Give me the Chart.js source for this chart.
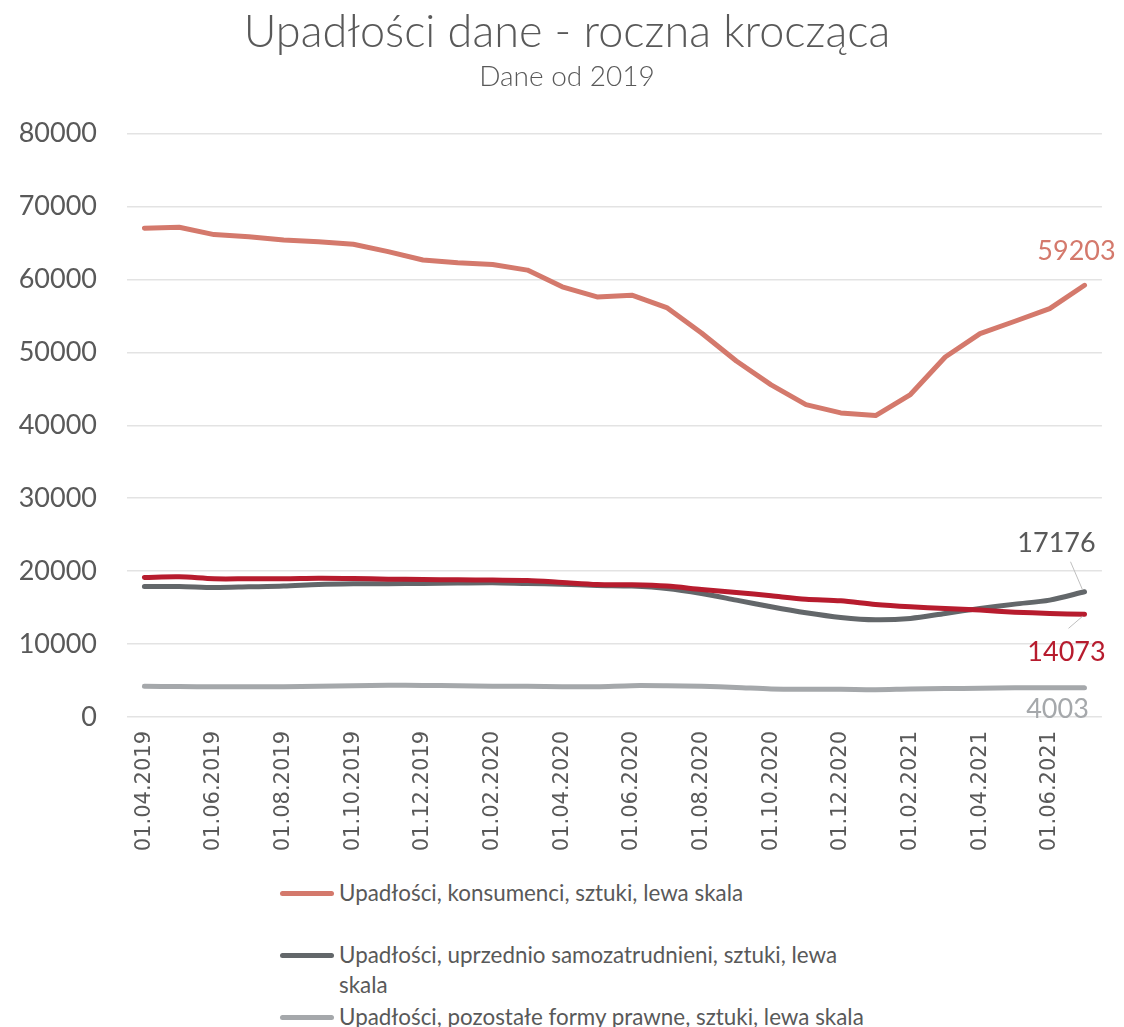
<!DOCTYPE html>
<html lang="pl">
<head>
<meta charset="utf-8">
<title>Upadłości dane - roczna krocząca</title>
<script src="https://cdn.jsdelivr.net/npm/chart.js@4.4.1/dist/chart.umd.min.js"></script>
<style>
  html, body { margin: 0; padding: 0; background: #ffffff; overflow: hidden; }
  #wrap { position: relative; width: 1124px; height: 1027px; }
  #plot { position: absolute; left: 0; top: 0; }
  #legend {
    position: absolute; left: 280px; top: 878px; width: 620px;
    font-family: Lato, "Open Sans", sans-serif; font-size: 22.4px; color: #595959;
  }
  .item { display: flex; align-items: flex-start; min-height: 62px; }
  .swatch { flex: none; width: 54px; height: 5px; border-radius: 3px; margin-top: 13px; margin-right: 5px; }
  .text { line-height: 30px; width: 532px; }
</style>
</head>
<body>
<div id="wrap">
  <canvas id="plot" width="1124" height="860"></canvas>
  <div id="legend"></div>
</div>
<script>
// Monthly observations, rolling 12-month totals
const months = [
  '01.04.2019', '01.05.2019', '01.06.2019', '01.07.2019', '01.08.2019', '01.09.2019',
  '01.10.2019', '01.11.2019', '01.12.2019', '01.01.2020', '01.02.2020', '01.03.2020',
  '01.04.2020', '01.05.2020', '01.06.2020', '01.07.2020', '01.08.2020', '01.09.2020',
  '01.10.2020', '01.11.2020', '01.12.2020', '01.01.2021', '01.02.2021', '01.03.2021',
  '01.04.2021', '01.05.2021', '01.06.2021', '01.07.2021'
];

const konsumenci = [
  67020, 67160, 66150, 65870, 65410, 65180, 64820, 63810, 62660, 62290, 62060, 61280,
  58990, 57610, 57840, 56150, 52660, 48810, 45550, 42840, 41700, 41330, 44220, 49360,
  52570, 54270, 56010, 59203
];

const samozatrudnieni = [
  17900, 17900, 17760, 17850, 17950, 18170, 18260, 18280, 18310, 18360, 18400, 18300,
  18220, 18040, 17950, 17630, 16940, 16030, 15110, 14290, 13650, 13330, 13520, 14200,
  14890, 15480, 16030, 17176
];

const pozostale = [
  4200, 4180, 4150, 4150, 4150, 4200, 4300, 4350, 4330, 4280, 4230, 4200,
  4150, 4150, 4300, 4280, 4200, 4050, 3850, 3800, 3800, 3750, 3850, 3900,
  3950, 4000, 4000, 4003
];

const przedsiebiorstwa = [
  19130, 19220, 18950, 18950, 18950, 19040, 19000, 18900, 18860, 18810, 18770, 18720,
  18450, 18170, 18130, 17950, 17490, 17080, 16620, 16160, 15940, 15430, 15110, 14890,
  14660, 14380, 14200, 14073
];

const yTicks = [0, 10000, 20000, 30000, 40000, 50000, 60000, 70000, 80000];

const TEXT = '#595959';
const FONT = 'Lato, "Open Sans", sans-serif';

function series(label, data, color, order, tension, end) {
  return {
    label, data, order, tension,
    borderColor: color, backgroundColor: color,
    borderWidth: 5, borderCapStyle: 'round', borderJoinStyle: 'round',
    pointRadius: 0, pointHoverRadius: 0, fill: false,
    endLabel: end
  };
}

const datasets = [
  series('Upadłości, konsumenci, sztuki, lewa skala', konsumenci, '#D4796C', 3, 0,
    { color: '#D4796C', dx: -8, dy: -34 }),
  series('Upadłości, uprzednio samozatrudnieni, sztuki, lewa skala', samozatrudnieni, '#63676A', 2, 0.3,
    { color: TEXT, dx: -28, dy: -48, leader: [-14, -30, -2, -2] }),
  series('Upadłości, pozostałe formy prawne, sztuki, lewa skala', pozostale, '#A5A8AB', 1, 0.3,
    { color: '#A5A8AB', dx: -27, dy: 21 }),
  series('Upadłości, przedsiębiorstwa, sztuki, lewa skala', przedsiebiorstwa, '#B71C2E', 0, 0.3,
    { color: '#B71C2E', dx: -18, dy: 38, leader: [-2, 2, -16, 14] })
];

// Value of the latest month written next to the end of each line
const endLabels = {
  id: 'endLabels',
  afterDatasetsDraw(chart) {
    const ctx = chart.ctx;
    ctx.save();
    ctx.font = '27px ' + FONT;
    ctx.textAlign = 'center';
    ctx.textBaseline = 'middle';
    chart.data.datasets.forEach((ds, i) => {
      const meta = chart.getDatasetMeta(i);
      const last = meta.data.length - 1;
      const pt = meta.data[last];
      const cfg = ds.endLabel;
      if (!pt || !cfg) return;
      if (cfg.leader) {
        const [x1, y1, x2, y2] = cfg.leader;
        ctx.strokeStyle = '#BFBFBF';
        ctx.lineWidth = 1;
        ctx.beginPath();
        ctx.moveTo(pt.x + x1, pt.y + y1);
        ctx.lineTo(pt.x + x2, pt.y + y2);
        ctx.stroke();
      }
      ctx.fillStyle = cfg.color;
      ctx.fillText(String(ds.data[last]), pt.x + cfg.dx, pt.y + cfg.dy);
    });
    ctx.restore();
  }
};

const chart = new Chart(document.getElementById('plot'), {
  type: 'line',
  data: { labels: months, datasets },
  options: {
    responsive: false,
    maintainAspectRatio: false,
    devicePixelRatio: 1,
    animation: false,
    events: [],
    layout: { padding: { top: 0, right: 0, bottom: 0, left: 10 } },
    plugins: {
      legend: { display: false },
      tooltip: { enabled: false },
      title: {
        display: true,
        text: 'Upadłości dane - roczna krocząca',
        color: TEXT,
        font: { family: FONT, size: 45, weight: '300' },
        padding: { top: 5, bottom: 0 }
      },
      subtitle: {
        display: true,
        text: 'Dane od 2019',
        color: TEXT,
        font: { family: FONT, size: 28, weight: '300' },
        padding: { top: 1, bottom: 40 }
      }
    },
    scales: {
      x: {
        type: 'category',
        offset: true,
        grid: { display: false, drawTicks: false },
        border: { display: false },
        afterFit(scale) { scale.height = 143; },
        ticks: {
          autoSkip: false,
          maxRotation: 90,
          minRotation: 90,
          padding: 14,
          color: TEXT,
          font: { family: '"DejaVu Sans", sans-serif', size: 21 },
          callback(value, index) { return index % 2 === 0 ? months[index] : ''; }
        }
      },
      y: {
        position: 'left',
        min: yTicks[0],
        max: yTicks[yTicks.length - 1],
        afterFit(scale) { scale.width = 117; },
        afterBuildTicks(scale) { scale.ticks = yTicks.map(v => ({ value: v })); },
        grid: { color: '#E3E3E3', lineWidth: 1.5, drawTicks: false },
        border: { display: false },
        ticks: {
          padding: 30,
          color: TEXT,
          font: { family: FONT, size: 27 },
          callback(value) { return String(value); }
        }
      },
      // empty margin to the right of the plot area
      yRight: {
        position: 'right',
        min: yTicks[0],
        max: yTicks[yTicks.length - 1],
        afterFit(scale) { scale.width = 16; },
        grid: { display: false, drawTicks: false },
        border: { display: false },
        ticks: { display: false }
      }
    }
  },
  plugins: [endLabels]
});

// Legend listed one series per row under the plot
const legend = document.getElementById('legend');
datasets.forEach(ds => {
  const item = document.createElement('div');
  item.className = 'item';
  const sw = document.createElement('span');
  sw.className = 'swatch';
  sw.style.background = ds.borderColor;
  const tx = document.createElement('span');
  tx.className = 'text';
  tx.textContent = ds.label;
  item.appendChild(sw);
  item.appendChild(tx);
  legend.appendChild(item);
});
</script>
</body>
</html>
